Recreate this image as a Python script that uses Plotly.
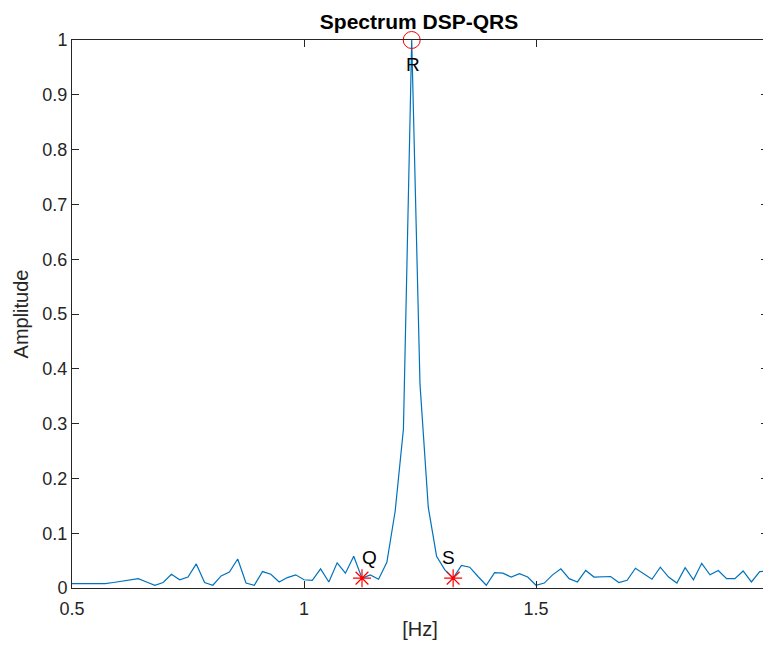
import plotly.graph_objects as go

# Frequency axis: 85 bins from 0.5 Hz to 2 Hz (step 1/56 Hz)
freq_start = 0.5
freq_step = 1 / 56
amplitude = [
    0.008, 0.008, 0.007, 0.007, 0.008, 0.010, 0.012, 0.014, 0.017, 0.011,
    0.005, 0.010, 0.025, 0.015, 0.020, 0.044, 0.010, 0.005, 0.022, 0.029,
    0.053, 0.009, 0.005, 0.030, 0.025, 0.011, 0.019, 0.024, 0.015, 0.014,
    0.035, 0.011, 0.046, 0.027, 0.058, 0.018, 0.024, 0.016, 0.047, 0.140,
    0.290, 1.000, 0.372, 0.147, 0.058, 0.033, 0.018, 0.041, 0.038, 0.021,
    0.005, 0.028, 0.027, 0.020, 0.026, 0.020, 0.005, 0.009, 0.024, 0.035,
    0.017, 0.011, 0.032, 0.020, 0.020, 0.021, 0.010, 0.014, 0.036, 0.026,
    0.016, 0.038, 0.020, 0.009, 0.037, 0.015, 0.045, 0.024, 0.032, 0.017,
    0.017, 0.031, 0.011, 0.030, 0.031,
]
freq = [freq_start + k * freq_step for k in range(len(amplitude))]

# Indices of the Q, R and S points in the spectrum
q_idx, r_idx, s_idx = 35, 41, 46

x_ticks = [0.5, 1, 1.5, 2]
x_tick_labels = ["0.5", "1", "1.5", "2"]
y_ticks = [round(0.1 * i, 1) for i in range(11)]
y_tick_labels = ["0", "0.1", "0.2", "0.3", "0.4", "0.5", "0.6", "0.7", "0.8", "0.9", "1"]

axis_color = "#262626"
font_family = "Liberation Sans, Arial, sans-serif"

fig = go.Figure()
fig.add_trace(go.Scatter(
    x=freq, y=amplitude, mode="lines",
    line=dict(color="#0072BD", width=1.2),
    showlegend=False, hoverinfo="x+y",
))
# R peak: open circle
fig.add_trace(go.Scatter(
    x=[freq[r_idx]], y=[amplitude[r_idx]], mode="markers",
    marker=dict(symbol="circle-open", size=17, color="#FF0000", line=dict(width=1)),
    showlegend=False, cliponaxis=False,
))
# Q and S points: asterisks
fig.add_trace(go.Scatter(
    x=[freq[q_idx], freq[s_idx]], y=[amplitude[q_idx], amplitude[s_idx]], mode="markers",
    marker=dict(symbol="asterisk-open", size=15, color="#FF0000", line=dict(width=1.2, color="#FF0000")),
    showlegend=False, cliponaxis=False,
))

label_font = dict(family=font_family, size=19, color="#000000")
for name, idx, dx, dy in [("Q", q_idx, 7, 21), ("S", s_idx, -5, 21), ("R", r_idx, 1, -24)]:
    fig.add_annotation(
        x=freq[idx], y=amplitude[idx], text=name, showarrow=False,
        xshift=dx, yshift=dy, font=label_font,
    )

axis_common = dict(
    showline=True, linecolor=axis_color, linewidth=1, mirror="ticks",
    ticks="inside", ticklen=7, tickcolor=axis_color, tickwidth=1,
    showgrid=False, zeroline=False,
    tickfont=dict(family=font_family, size=18, color=axis_color),
)

fig.update_layout(
    width=772, height=646,
    margin=dict(l=72, r=4, t=40, b=58),
    plot_bgcolor="white", paper_bgcolor="white",
    title=dict(
        text="<b>Spectrum DSP-QRS</b>", xref="paper", x=0.5 - 1 / 696, xanchor="center",
        y=1 - 22 / 646, yanchor="middle",
        font=dict(family=font_family, size=21, color="#000000"),
    ),
    xaxis=dict(
        range=[0.5, 2], tickvals=x_ticks, ticktext=x_tick_labels,
        ticklabelstandoff=4,
        title=dict(text="[Hz]", font=dict(family=font_family, size=20, color=axis_color), standoff=4),
        **axis_common,
    ),
    yaxis=dict(
        range=[0, 1], tickvals=y_ticks, ticktext=y_tick_labels,
        title=dict(text="Amplitude", font=dict(family=font_family, size=20, color=axis_color), standoff=8),
        **axis_common,
    ),
)

fig.write_html("out.html")
